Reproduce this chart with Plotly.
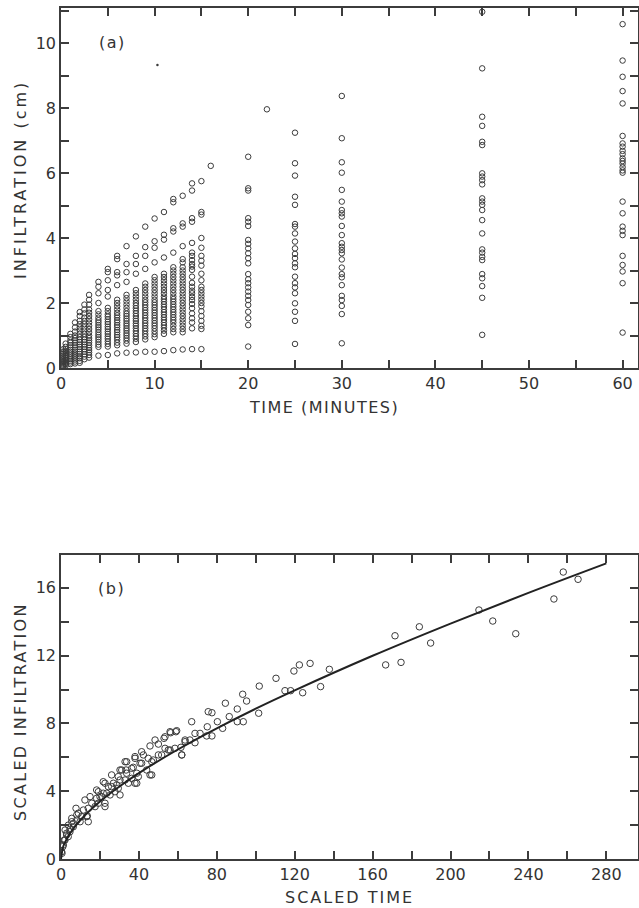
import plotly.graph_objects as go

# ---------------- panel (a): infiltration vs time ----------------
times_a = [0.25, 0.5, 1, 1.5, 2, 2.5, 3, 4, 5, 6, 7, 8, 9, 10, 11, 12, 13, 14, 15, 16, 20, 22, 25, 30, 45, 60]

col_0p25 = [0.58, 0.5, 0.44, 0.38, 0.32, 0.27, 0.22, 0.18, 0.14, 0.1, 0.06]
col_0p5 = [0.75, 0.65, 0.58, 0.52, 0.46, 0.4, 0.35, 0.3, 0.25, 0.2, 0.16, 0.12, 0.08]
col_1 = [1.05, 0.95, 0.85, 0.78, 0.7, 0.63, 0.56, 0.5, 0.44, 0.38, 0.32, 0.27, 0.22, 0.17, 0.12]
col_1p5 = [1.4, 1.25, 1.12, 1.0, 0.92, 0.85, 0.78, 0.7, 0.63, 0.56, 0.5, 0.44, 0.38, 0.32, 0.26, 0.2, 0.14]
col_2 = [1.72, 1.6, 1.45, 1.35, 1.25, 1.15, 1.05, 0.95, 0.87, 0.8, 0.72, 0.65, 0.58, 0.5, 0.43, 0.36, 0.3, 0.22, 0.16]
col_2p5 = [1.95, 1.8, 1.68, 1.55, 1.45, 1.35, 1.25, 1.15, 1.05, 0.95, 0.87, 0.8, 0.72, 0.65, 0.58, 0.5, 0.42, 0.35, 0.27]
col_3 = [2.25, 2.1, 1.95, 1.8, 1.7, 1.6, 1.5, 1.4, 1.3, 1.2, 1.1, 1.0, 0.92, 0.85, 0.78, 0.7, 0.62, 0.55, 0.48, 0.4, 0.32]
col_4 = [2.65, 2.5, 2.3, 2.0, 1.75, 1.65, 1.55, 1.47, 1.4, 1.32, 1.25, 1.18, 1.1, 1.02, 0.95, 0.88, 0.8, 0.72, 0.65, 0.38]
col_5 = [3.05, 2.95, 2.7, 2.4, 2.2, 1.85, 1.75, 1.65, 1.58, 1.5, 1.42, 1.35, 1.27, 1.2, 1.12, 1.05, 0.97, 0.9, 0.82, 0.74, 0.66, 0.4]
col_6 = [3.45, 3.35, 2.95, 2.85, 2.55, 2.1, 2.0, 1.9, 1.8, 1.7, 1.62, 1.55, 1.47, 1.4, 1.32, 1.25, 1.17, 1.1, 1.02, 0.95, 0.87, 0.78, 0.7, 0.45]
col_7 = [3.75, 3.2, 2.95, 2.65, 2.25, 2.15, 2.05, 1.95, 1.85, 1.75, 1.67, 1.6, 1.52, 1.45, 1.37, 1.3, 1.22, 1.15, 1.07, 1.0, 0.92, 0.84, 0.75, 0.47]
col_8 = [4.05, 3.45, 3.2, 2.9, 2.4, 2.3, 2.2, 2.1, 2.0, 1.92, 1.84, 1.76, 1.68, 1.6, 1.52, 1.45, 1.37, 1.3, 1.22, 1.14, 1.06, 0.98, 0.9, 0.8, 0.48]
col_9 = [4.35, 3.72, 3.45, 3.05, 2.6, 2.5, 2.4, 2.3, 2.2, 2.1, 2.02, 1.94, 1.86, 1.78, 1.7, 1.62, 1.54, 1.46, 1.38, 1.3, 1.22, 1.14, 1.05, 0.97, 0.88, 0.5]
col_10 = [4.6, 3.9, 3.7, 3.25, 2.8, 2.7, 2.6, 2.5, 2.4, 2.3, 2.2, 2.1, 2.02, 1.94, 1.86, 1.78, 1.7, 1.62, 1.54, 1.46, 1.38, 1.3, 1.22, 1.13, 1.04, 0.95, 0.5]
col_11 = [4.8, 4.1, 3.95, 3.4, 2.9, 2.8, 2.7, 2.6, 2.5, 2.4, 2.3, 2.2, 2.12, 2.04, 1.96, 1.88, 1.8, 1.72, 1.64, 1.56, 1.48, 1.4, 1.32, 1.24, 1.15, 1.05, 0.52]
col_12 = [5.2, 5.1, 4.3, 4.2, 3.55, 3.1, 3.0, 2.9, 2.8, 2.7, 2.6, 2.5, 2.4, 2.3, 2.2, 2.12, 2.04, 1.96, 1.88, 1.8, 1.72, 1.64, 1.56, 1.48, 1.4, 1.3, 1.2, 1.1, 0.55]
col_13 = [5.3, 4.45, 4.35, 3.75, 3.35, 3.25, 3.1, 3.0, 2.9, 2.8, 2.7, 2.6, 2.5, 2.4, 2.3, 2.2, 2.1, 2.0, 1.9, 1.8, 1.7, 1.6, 1.5, 1.4, 1.3, 1.2, 1.1, 0.57]
col_14 = [5.68, 5.46, 4.61, 4.5, 3.85, 3.55, 3.45, 3.32, 3.2, 3.12, 3.02, 2.81, 2.62, 2.5, 2.38, 2.3, 2.19, 2.09, 1.97, 1.84, 1.68, 1.53, 1.4, 1.22, 0.58]
col_15 = [5.75, 4.8, 4.72, 4.0, 3.7, 3.45, 3.3, 3.15, 2.9, 2.7, 2.5, 2.4, 2.3, 2.2, 2.1, 2.0, 1.9, 1.75, 1.6, 1.45, 1.3, 1.2, 0.58]
col_16 = [6.22]
col_20 = [6.50, 5.53, 5.46, 4.61, 4.50, 4.37, 3.94, 3.82, 3.68, 3.53, 3.38, 3.22, 2.89, 2.73, 2.61, 2.48, 2.35, 2.22, 2.09, 1.94, 1.73, 1.53, 1.32, 0.66]
col_22 = [7.96]
col_25 = [7.24, 6.30, 5.92, 5.27, 5.02, 4.43, 4.35, 4.14, 3.89, 3.68, 3.51, 3.38, 3.22, 3.10, 2.81, 2.61, 2.48, 2.30, 1.99, 1.73, 1.45, 0.74]
col_30 = [8.37, 7.07, 6.33, 6.01, 5.48, 5.12, 4.86, 4.76, 4.66, 4.37, 4.09, 3.84, 3.73, 3.63, 3.53, 3.34, 3.09, 2.89, 2.79, 2.55, 2.22, 2.09, 1.91, 1.66, 0.76]
col_45 = [10.96, 9.22, 7.73, 7.45, 6.96, 6.86, 5.99, 5.89, 5.78, 5.65, 5.22, 5.12, 5.02, 4.86, 4.55, 4.14, 3.65, 3.55, 3.42, 3.32, 2.89, 2.76, 2.52, 2.16, 1.02]
col_60 = [10.58, 9.46, 8.96, 8.52, 8.14, 7.14, 6.91, 6.81, 6.68, 6.58, 6.45, 6.37, 6.29, 6.18, 6.08, 6.01, 5.12, 4.76, 4.35, 4.22, 4.09, 3.45, 3.17, 2.97, 2.61, 1.09]

columns_a = [col_0p25, col_0p5, col_1, col_1p5, col_2, col_2p5, col_3, col_4, col_5, col_6,
             col_7, col_8, col_9, col_10, col_11, col_12, col_13, col_14, col_15, col_16,
             col_20, col_22, col_25, col_30, col_45, col_60]

speck_t = [10.3]
speck_i = [9.32]

xticks_a = [0, 5, 10, 15, 20, 25, 30, 35, 40, 45, 50, 55, 60]
xlabels_a = ["0", "", "10", "", "20", "", "30", "", "40", "", "50", "", "60"]
yticks_a = [0, 1, 2, 3, 4, 5, 6, 7, 8, 9, 10, 11]
ylabels_a = ["0", "", "2", "", "4", "", "6", "", "8", "", "10", ""]

# ---------------- panel (b): scaled infiltration vs scaled time ----------------
scaled_t = [0.5, 0.9, 1.7, 2.1, 2.9, 3.8, 4.6, 5.5, 6.3, 7.7, 8.1, 9.8, 10.6, 11.5, 12.3, 13.5, 14.0,
            14.9, 15.8, 18.3, 19.2, 20.0, 21.7, 22.6, 22.6, 25.2, 26.0, 26.0, 28.6, 29.4, 30.3, 30.3,
            32.9, 33.4, 33.7, 36.3, 37.1, 38.0, 38.0, 38.9, 40.6, 41.4, 44.0, 44.8, 45.7, 46.6, 47.4,
            48.3, 50.0, 50.0, 52.9, 53.4, 56.0, 56.3, 59.0, 61.6, 62.0, 63.7, 66.2, 67.1, 68.8, 68.8,
            71.4, 74.8, 75.1, 75.6, 77.5, 77.5, 80.3, 83.0, 84.4, 86.4, 90.5, 90.5, 93.3, 93.6, 95.3,
            101.5, 101.8, 110.4, 115.0, 117.9, 119.6, 122.4, 124.1, 127.9, 133.3, 137.8, 166.7, 171.5,
            174.6, 184.0, 189.8, 214.6, 221.7, 233.5, 253.1, 257.9, 265.5,
            0.3, 1.2, 2.05, 3.7, 4.6, 2.9, 6.3, 5.5, 8.1, 8.9, 13.2, 14.0, 17.5, 18.3, 19.2, 20.9, 22.6,
            23.5, 24.3, 21.7, 26.9, 27.7, 29.4, 30.3, 31.2, 32.9, 33.7, 34.6, 36.3, 38.0, 38.9, 39.7,
            41.4, 42.3, 45.7, 46.6, 53.4, 56.0, 59.4, 51.7, 55.1, 58.5, 62.0, 63.7]
scaled_i = [0.34, 0.73, 1.12, 1.71, 1.42, 2.0, 1.75, 2.4, 2.1, 2.99, 2.6, 2.2, 2.5, 2.89, 3.48, 2.54, 2.99,
            3.68, 3.29, 4.07, 3.29, 3.68, 3.88, 3.09, 4.47, 3.78, 4.27, 4.96, 4.37, 4.86, 3.78, 5.25,
            4.66, 5.25, 5.74, 4.76, 5.41, 4.47, 5.94, 5.06, 5.65, 6.33, 5.25, 5.94, 6.67, 4.96, 5.84,
            7.02, 6.14, 6.78, 7.12, 6.53, 6.43, 7.45, 7.51, 6.59, 6.14, 6.92, 7.02, 8.1, 6.86, 7.41,
            7.41, 7.26, 7.8, 8.69, 8.63, 7.26, 8.1, 7.71, 9.19, 8.4, 8.1, 8.85, 9.72, 8.1, 9.32,
            8.6, 10.2, 10.66, 9.93, 9.93, 11.09, 11.45, 9.81, 11.54, 10.17, 11.19, 11.45, 13.17,
            11.6, 13.7, 12.74, 14.69, 14.04, 13.29, 15.34, 16.93, 16.5,
            0.43, 0.83, 1.12, 1.32, 1.61, 1.52, 1.9, 2.2, 2.3, 2.7, 2.5, 2.2, 3.09, 3.58, 3.97, 3.68, 3.29,
            3.88, 4.27, 4.56, 4.47, 3.97, 4.17, 4.66, 5.25, 5.74, 5.06, 4.47, 5.35, 6.04, 4.47, 4.86,
            5.65, 6.14, 4.96, 5.74, 7.21, 7.51, 7.57, 6.14, 6.43, 6.53, 6.14, 7.02]

fit_t = [0, 1, 2, 5, 10, 20, 30, 40, 60, 80, 100, 120, 160, 200, 240, 280]
fit_i = [0, 0.68, 0.97, 1.58, 2.30, 3.39, 4.28, 5.07, 6.46, 7.71, 8.87, 9.95, 11.99, 13.89, 15.70, 17.44]

xticks_b = [0, 20, 40, 60, 80, 100, 120, 140, 160, 180, 200, 220, 240, 260, 280]
xlabels_b = ["0", "", "40", "", "80", "", "120", "", "160", "", "200", "", "240", "", "280"]
yticks_b = [0, 2, 4, 6, 8, 10, 12, 14, 16]
ylabels_b = ["0", "", "4", "", "8", "", "12", "", "16"]

# ---------------- figure ----------------
W, H = 639, 908
INK = "#3c3c3c"
FONT = "DejaVu Sans"


def px_x(p):
    return p / W


def px_y(p):
    return 1 - p / H


fig = go.Figure()

xs, ys = [], []
for t, col in zip(times_a, columns_a):
    xs += [t] * len(col)
    ys += col
fig.add_trace(go.Scatter(x=xs, y=ys, mode="markers", xaxis="x", yaxis="y",
                         marker=dict(symbol="circle-open", size=5.5, color=INK, line=dict(width=1, color=INK)),
                         showlegend=False, hoverinfo="x+y"))
fig.add_trace(go.Scatter(x=speck_t, y=speck_i, mode="markers", xaxis="x", yaxis="y",
                         marker=dict(symbol="circle", size=2.5, color=INK), showlegend=False))

fig.add_trace(go.Scatter(x=scaled_t, y=scaled_i, mode="markers", xaxis="x2", yaxis="y2",
                         marker=dict(symbol="circle-open", size=6.5, color=INK, line=dict(width=1, color=INK)),
                         showlegend=False))
fig.add_trace(go.Scatter(x=fit_t, y=fit_i, mode="lines", xaxis="x2", yaxis="y2",
                         line=dict(color="#222222", width=2, shape="spline"), showlegend=False))

left, right = 61, 638
axis_common = dict(showgrid=False, zeroline=False, showline=True, linecolor=INK, linewidth=1.5,
                   mirror="allticks", ticks="inside", ticklen=8, tickwidth=1.5, tickcolor=INK,
                   tickfont=dict(family=FONT, size=16, color="#333333"), automargin=False)

fig.update_layout(
    width=W, height=H, margin=dict(l=0, r=0, t=0, b=0),
    paper_bgcolor="white", plot_bgcolor="white",
    xaxis=dict(domain=[px_x(left), px_x(right)], range=[0, (right - left) / 9.36], anchor="y",
               tickmode="array", tickvals=xticks_a, ticktext=xlabels_a, **axis_common),
    yaxis=dict(domain=[px_y(368), px_y(8)], range=[0, 360 / 32.5], anchor="x",
               tickmode="array", tickvals=yticks_a, ticktext=ylabels_a, **axis_common),
    xaxis2=dict(domain=[px_x(left), px_x(right)], range=[0, (right - left) / 1.9475], anchor="y2",
                tickmode="array", tickvals=xticks_b, ticktext=xlabels_b, **axis_common),
    yaxis2=dict(domain=[px_y(859), px_y(555)], range=[0, 304 / 16.95], anchor="x2",
                tickmode="array", tickvals=yticks_b, ticktext=ylabels_b, **axis_common),
)

title_font = dict(family=FONT, size=16, color="#333333")


def spaced(s, sp):
    return '<span style="letter-spacing:%spx">%s</span>' % (sp, s)


annots = [
    dict(text=spaced("INFILTRATION (cm)", 3.0), x=px_x(20), y=px_y(180), textangle=-90),
    dict(text=spaced("TIME (MINUTES)", 1.5), x=px_x(324), y=px_y(407), textangle=0),
    dict(text=spaced("SCALED INFILTRATION", 2.3), x=px_x(20), y=px_y(712), textangle=-90),
    dict(text=spaced("SCALED TIME", 2.0), x=px_x(349), y=px_y(897), textangle=0),
    dict(text=spaced("(a)", 1.5), x=px_x(112), y=px_y(43), textangle=0),
    dict(text=spaced("(b)", 1.5), x=px_x(111), y=px_y(588), textangle=0),
]
for a in annots:
    fig.add_annotation(xref="paper", yref="paper", xanchor="center", yanchor="middle",
                       showarrow=False, font=title_font, **a)

fig.write_html("out.html", config={"displayModeBar": False},
               post_script="document.body.style.margin='0px';document.body.style.overflow='hidden';")
